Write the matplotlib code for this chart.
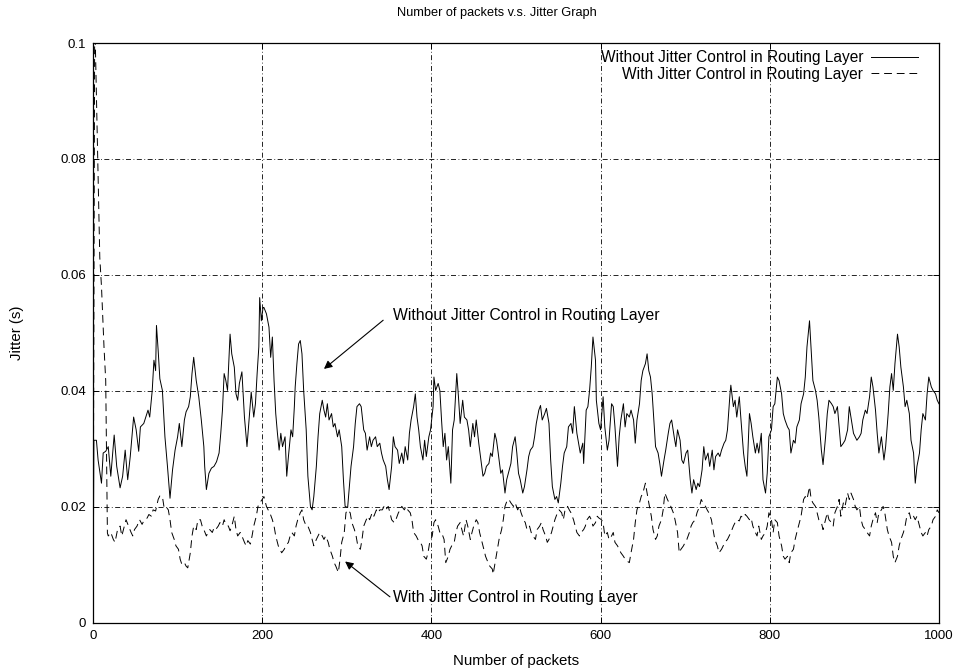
import matplotlib.pyplot as plt

plt.rcParams["font.family"] = ["Liberation Sans", "DejaVu Sans"]

title = "Number of packets v.s. Jitter Graph"
label_without = "Without Jitter Control in Routing Layer"
label_with = "With Jitter Control in Routing Layer"
x_ticks = [0, 200, 400, 600, 800, 1000]
y_ticks = [0, 0.02, 0.04, 0.06, 0.08, 0.1]
y_tick_labels = ["0", "0.02", "0.04", "0.06", "0.08", "0.1"]

# values (packet number, jitter in s)
pkt_without = [
    0, 1, 4, 6, 10, 12, 15, 18, 21, 25,
    28, 32, 35, 38, 41, 44, 48, 51, 54, 56,
    60, 63, 65, 67, 70, 72, 74, 75, 77, 79,
    82, 85, 88, 91, 94, 97, 100, 102, 105, 108,
    110, 113, 115, 117, 119, 122, 125, 128, 131, 132,
    134, 137, 140, 143, 146, 149, 151, 153, 155, 157,
    159, 162, 164, 167, 169, 171, 173, 176, 179, 182,
    185, 187, 190, 192, 194, 196, 197, 199, 201,
    202, 205, 208, 210, 212, 214, 216, 218, 220, 222,
    224, 227, 229, 231, 234, 236, 238, 239, 241, 243,
    245, 247, 249, 252, 254, 257, 259, 261, 264, 266,
    268, 271, 273, 275, 277, 279, 282, 284, 286, 289,
    291, 294, 296, 298, 301, 303, 305, 308, 310, 312,
    315, 317, 320, 322, 324, 327, 329, 331, 334, 336,
    339, 341, 343, 346, 348, 350, 353, 355, 357, 360,
    362, 365, 367, 369, 372, 374, 376, 379, 381, 383,
    385, 387, 390, 392, 394, 397, 399, 402,
    403, 405, 408, 410, 412, 414, 416, 418, 420, 423,
    425, 427, 430, 432, 434, 437, 439, 442, 444, 446,
    449, 451, 453, 456, 458, 461, 463, 465, 468, 470,
    472, 475, 477, 479, 482, 484, 487, 489, 491, 494,
    496, 499, 501, 503, 505, 508, 510, 513, 515, 517,
    520, 522, 524, 527, 529, 531, 534, 536, 539, 541,
    543, 546, 548, 550, 553, 555, 557, 560, 562, 565,
    567, 569, 572, 574, 576, 579, 580, 583, 585, 587,
    589, 591, 594, 595, 598, 600,
    603, 605, 608, 610, 613, 615, 617, 620, 622, 624,
    627, 629, 631, 634, 636, 639, 641, 643, 646, 648,
    650, 653, 655, 657, 659, 661, 663, 665, 668, 670,
    672, 675, 677, 680, 682, 684, 687, 689, 691, 694,
    696, 698, 701, 703, 706, 708, 710, 713, 715, 717,
    720, 722, 724, 727, 729, 732, 734, 736, 739, 741,
    743, 746, 748, 750, 753, 754, 757, 759, 761, 764,
    766, 769, 771, 773, 776, 778, 780, 783, 785, 787,
    790, 792, 795, 797, 799,
    802, 804, 806, 809, 811, 814, 816, 818, 821, 823,
    825, 828, 830, 832, 835, 837, 840, 842, 844, 847,
    849, 851, 854, 856, 858, 861, 863, 866, 868, 870,
    873, 875, 877, 880, 882, 884, 887, 889, 892, 894,
    896, 899, 901, 903, 906, 908, 910, 913, 915, 918,
    920, 922, 925, 927, 929, 932, 935, 937, 940, 942,
    944, 946, 948, 951, 953, 955, 958, 960, 962, 965,
    967, 970, 972, 974, 977, 979, 981, 984, 986, 988,
    991, 993, 996, 998, 1000,
]
jitter_without = [
    0.0, 0.0315, 0.0315, 0.0281, 0.0241, 0.0293, 0.0296, 0.0304, 0.0253, 0.0324,
    0.0270, 0.0233, 0.0253, 0.0298, 0.0247, 0.0287, 0.0355, 0.0333, 0.0296, 0.0338,
    0.0344, 0.0358, 0.0367, 0.0355, 0.0401, 0.0453, 0.0435, 0.0513, 0.0470, 0.0421,
    0.0401, 0.0321, 0.0270, 0.0215, 0.0264, 0.0298, 0.0321, 0.0344, 0.0304, 0.0350,
    0.0364, 0.0373, 0.0390, 0.0430, 0.0458, 0.0418, 0.0390, 0.0350, 0.0304, 0.0270,
    0.0230, 0.0258, 0.0267, 0.0270, 0.0278, 0.0293, 0.0327, 0.0367, 0.0430, 0.0418,
    0.0401, 0.0498, 0.0464, 0.0441, 0.0395, 0.0384, 0.0413, 0.0433, 0.0355, 0.0304,
    0.0361, 0.0398, 0.0355, 0.0378, 0.0430, 0.0476, 0.0561, 0.0521, 0.0544,
    0.0544, 0.0533, 0.0510, 0.0458, 0.0493, 0.0418, 0.0361, 0.0327, 0.0298, 0.0327,
    0.0304, 0.0321, 0.0253, 0.0287, 0.0333, 0.0321, 0.0373, 0.0407, 0.0447, 0.0481,
    0.0487, 0.0464, 0.0401, 0.0333, 0.0253, 0.0201, 0.0195, 0.0218, 0.0270, 0.0321,
    0.0361, 0.0384, 0.0367, 0.0355, 0.0378, 0.0350, 0.0361, 0.0338, 0.0344, 0.0321,
    0.0333, 0.0304, 0.0247, 0.0201, 0.0199, 0.0235, 0.0270, 0.0304, 0.0344, 0.0373,
    0.0378, 0.0373, 0.0333, 0.0327, 0.0298, 0.0321, 0.0304, 0.0315, 0.0321, 0.0304,
    0.0310, 0.0293, 0.0281, 0.0270, 0.0247, 0.0230, 0.0270, 0.0321, 0.0304, 0.0298,
    0.0275, 0.0293, 0.0275, 0.0304, 0.0281, 0.0327, 0.0350, 0.0373, 0.0395, 0.0355,
    0.0333, 0.0304, 0.0281, 0.0315, 0.0287, 0.0321, 0.0333, 0.0373,
    0.0424, 0.0401, 0.0413, 0.0401, 0.0350, 0.0304, 0.0327, 0.0281, 0.0304, 0.0241,
    0.0333, 0.0350, 0.0430, 0.0390, 0.0344, 0.0384, 0.0355, 0.0350, 0.0333, 0.0304,
    0.0344, 0.0321, 0.0350, 0.0310, 0.0287, 0.0253, 0.0258, 0.0270, 0.0275, 0.0293,
    0.0287, 0.0327, 0.0315, 0.0293, 0.0258, 0.0264, 0.0224, 0.0247, 0.0258, 0.0275,
    0.0304, 0.0321, 0.0293, 0.0258, 0.0247, 0.0224, 0.0235, 0.0264, 0.0287, 0.0298,
    0.0304, 0.0321, 0.0344, 0.0367, 0.0375, 0.0350, 0.0361, 0.0370, 0.0344, 0.0281,
    0.0235, 0.0213, 0.0218, 0.0207, 0.0241, 0.0270, 0.0293, 0.0304, 0.0338, 0.0344,
    0.0327, 0.0373, 0.0327, 0.0310, 0.0293, 0.0310, 0.0275, 0.0367, 0.0373, 0.0401,
    0.0441, 0.0493, 0.0453, 0.0384, 0.0344, 0.0333,
    0.0390, 0.0338, 0.0298, 0.0315, 0.0378, 0.0373, 0.0338, 0.0270, 0.0321, 0.0350,
    0.0378, 0.0338, 0.0361, 0.0355, 0.0367, 0.0350, 0.0310, 0.0350, 0.0378, 0.0418,
    0.0435, 0.0447, 0.0464, 0.0435, 0.0424, 0.0395, 0.0350, 0.0304, 0.0293, 0.0275,
    0.0253, 0.0281, 0.0298, 0.0327, 0.0344, 0.0350, 0.0321, 0.0304, 0.0333, 0.0315,
    0.0281, 0.0275, 0.0293, 0.0298, 0.0247, 0.0224, 0.0247, 0.0230, 0.0241, 0.0235,
    0.0264, 0.0304, 0.0281, 0.0293, 0.0270, 0.0298, 0.0264, 0.0287, 0.0293, 0.0287,
    0.0298, 0.0310, 0.0315, 0.0333, 0.0395, 0.0410, 0.0373, 0.0384, 0.0355, 0.0390,
    0.0350, 0.0293, 0.0270, 0.0253, 0.0361, 0.0344, 0.0321, 0.0293, 0.0310, 0.0293,
    0.0327, 0.0247, 0.0224, 0.0258, 0.0321,
    0.0333, 0.0373, 0.0378, 0.0424, 0.0418, 0.0395, 0.0361, 0.0350, 0.0338, 0.0333,
    0.0293, 0.0315, 0.0310, 0.0338, 0.0350, 0.0378, 0.0395, 0.0424, 0.0476, 0.0521,
    0.0470, 0.0418, 0.0401, 0.0384, 0.0355, 0.0298, 0.0273, 0.0321, 0.0361, 0.0384,
    0.0378, 0.0373, 0.0361, 0.0373, 0.0338, 0.0304, 0.0310, 0.0315, 0.0333, 0.0373,
    0.0355, 0.0327, 0.0321, 0.0315, 0.0321, 0.0327, 0.0350, 0.0367, 0.0361, 0.0390,
    0.0424, 0.0407, 0.0367, 0.0327, 0.0293, 0.0321, 0.0281, 0.0304, 0.0361, 0.0407,
    0.0430, 0.0401, 0.0447, 0.0498, 0.0476, 0.0441, 0.0407, 0.0373, 0.0384, 0.0361,
    0.0315, 0.0293, 0.0241, 0.0270, 0.0293, 0.0333, 0.0361, 0.0350, 0.0395, 0.0424,
    0.0407, 0.0401, 0.0395, 0.0384, 0.0378,
]

pkt_with = [
    0, 2, 8, 10, 13, 15, 17,
    18, 21, 24, 26, 29, 32, 34, 37, 39, 42,
    45, 47, 49, 52, 55, 58, 60, 64, 66, 69,
    71, 74, 77, 79, 82, 84, 86, 89, 91, 93,
    96, 98, 101, 103, 105, 108, 110, 112, 115, 117,
    119, 122, 124, 127, 129, 131, 134, 136, 138, 141,
    143, 145, 148, 150, 153, 155, 157, 160, 162, 164,
    167, 169, 171, 174, 176, 179, 181, 183, 186, 188,
    190, 193, 195, 197, 200, 202,
    205, 207, 209, 212, 214, 216, 219, 221, 223, 226,
    228, 231, 233, 235, 238, 240, 242, 245, 247, 249,
    252, 254, 257, 259, 261, 264, 266, 268, 271, 273,
    275, 278, 280, 283, 285, 287, 290, 292, 294, 297,
    299, 301, 304, 306, 309, 311, 313, 316, 318, 320,
    323, 325, 327, 330, 332, 335, 337, 339, 342, 344,
    346, 349, 351, 353, 356, 358, 361, 363, 365, 368,
    370, 372, 375, 377, 379, 382, 384, 387, 389, 391,
    394, 396, 398, 401, 403,
    405, 408, 410, 412, 415, 417, 420, 422, 424, 427,
    429, 431, 434, 436, 438, 441, 443, 446, 448, 450,
    453, 455, 457, 460, 462, 464, 467, 469, 472, 473,
    476, 478, 480, 483, 485, 487, 490, 492, 494, 497,
    499, 502, 504, 506, 509, 511, 513, 516, 518, 520,
    523, 525, 528, 530, 532, 535, 537, 539, 542, 544,
    546, 549, 551, 554, 556, 558, 561, 563, 565, 568,
    570, 572, 575, 577, 580, 582, 584, 587, 589, 591,
    594, 596, 598, 601, 603,
    605, 608, 610, 613, 615, 617, 620, 622, 624, 627,
    629, 631, 634, 636, 639, 641, 643, 646, 648, 650,
    653, 655, 657, 660, 662, 665, 667, 669, 672, 674,
    676, 679, 681, 683, 686, 688, 691, 693, 695, 698,
    700, 702, 705, 707, 709, 712, 714, 717, 719, 721,
    724, 726, 728, 731, 733, 735, 738, 740, 743, 745,
    747, 750, 752, 754, 757, 759, 761, 764, 766, 769,
    771, 773, 776, 778, 780, 783, 785, 787, 790, 792,
    795, 797, 799, 802, 804,
    806, 809, 811, 814, 816, 818, 821, 823, 825, 828,
    830, 832, 835, 837, 840, 842, 844, 847, 849, 851,
    854, 856, 858, 861, 863, 866, 868, 870, 873, 875,
    877, 880, 882, 884, 887, 889, 892, 894, 896, 899,
    901, 903, 906, 908, 910, 913, 915, 918, 920, 922,
    925, 927, 929, 932, 934, 936, 939, 941, 944, 946,
    948, 951, 953, 955, 958, 960, 962, 965, 967, 970,
    972, 974, 977, 979, 981, 984, 986, 988, 991, 993,
    996, 998, 1000,
]
jitter_with = [
    0.0, 0.105, 0.063, 0.058, 0.0475, 0.0418, 0.0155,
    0.0150, 0.0156, 0.0144, 0.0139, 0.0161, 0.0167, 0.0150, 0.0167, 0.0178, 0.0167,
    0.0156, 0.0150, 0.0161, 0.0167, 0.0178, 0.0170, 0.0176, 0.0181, 0.0187, 0.0184,
    0.0195, 0.0193, 0.0213, 0.0219, 0.0218, 0.0199, 0.0201, 0.0195, 0.0178, 0.0156,
    0.0144, 0.0133, 0.0127, 0.0110, 0.0101, 0.0104, 0.0098, 0.0095, 0.0121, 0.0150,
    0.0167, 0.0161, 0.0178, 0.0178, 0.0167, 0.0161, 0.0150, 0.0156, 0.0161, 0.0156,
    0.0164, 0.0161, 0.0167, 0.0173, 0.0167, 0.0178, 0.0170, 0.0167, 0.0159, 0.0167,
    0.0184, 0.0161, 0.0150, 0.0156, 0.0150, 0.0139, 0.0133, 0.0142, 0.0136, 0.0150,
    0.0167, 0.0184, 0.0201, 0.0207, 0.0213, 0.0218,
    0.0201, 0.0195, 0.0190, 0.0178, 0.0167, 0.0150, 0.0133, 0.0127, 0.0121, 0.0127,
    0.0133, 0.0139, 0.0150, 0.0156, 0.0150, 0.0167, 0.0178, 0.0190, 0.0195, 0.0178,
    0.0167, 0.0167, 0.0156, 0.0144, 0.0133, 0.0144, 0.0150, 0.0156, 0.0150, 0.0144,
    0.0150, 0.0139, 0.0127, 0.0115, 0.0104, 0.0098, 0.0087, 0.0110, 0.0139, 0.0156,
    0.0190, 0.0195, 0.0190, 0.0173, 0.0161, 0.0150, 0.0133, 0.0127, 0.0144, 0.0167,
    0.0178, 0.0184, 0.0178, 0.0190, 0.0184, 0.0195, 0.0190, 0.0195, 0.0195, 0.0201,
    0.0195, 0.0201, 0.0190, 0.0178, 0.0173, 0.0178, 0.0190, 0.0195, 0.0201, 0.0195,
    0.0201, 0.0195, 0.0190, 0.0178, 0.0156, 0.0150, 0.0144, 0.0139, 0.0133, 0.0115,
    0.0110, 0.0121, 0.0139, 0.0150, 0.0173,
    0.0178, 0.0167, 0.0156, 0.0156, 0.0144, 0.0104, 0.0115, 0.0127, 0.0133, 0.0139,
    0.0156, 0.0167, 0.0173, 0.0161, 0.0150, 0.0178, 0.0167, 0.0144, 0.0156, 0.0167,
    0.0178, 0.0173, 0.0156, 0.0139, 0.0127, 0.0115, 0.0104, 0.0098, 0.0093, 0.0084,
    0.0110, 0.0127, 0.0144, 0.0161, 0.0178, 0.0201, 0.0213, 0.0212, 0.0207, 0.0201,
    0.0207, 0.0195, 0.0201, 0.0190, 0.0178, 0.0173, 0.0161, 0.0167, 0.0156, 0.0150,
    0.0144, 0.0161, 0.0167, 0.0173, 0.0161, 0.0150, 0.0139, 0.0144, 0.0156, 0.0167,
    0.0178, 0.0190, 0.0195, 0.0190, 0.0178, 0.0195, 0.0201, 0.0195, 0.0190, 0.0178,
    0.0167, 0.0156, 0.0150, 0.0156, 0.0161, 0.0167, 0.0178, 0.0184, 0.0178, 0.0167,
    0.0173, 0.0184, 0.0181, 0.0178, 0.0173,
    0.0150, 0.0156, 0.0144, 0.0150, 0.0156, 0.0139, 0.0133, 0.0127, 0.0121, 0.0115,
    0.0110, 0.0107, 0.0104, 0.0121, 0.0144, 0.0173, 0.0195, 0.0207, 0.0218, 0.0224,
    0.0241, 0.0224, 0.0207, 0.0184, 0.0161, 0.0144, 0.0150, 0.0167, 0.0178, 0.0195,
    0.0224, 0.0213, 0.0207, 0.0201, 0.0190, 0.0178, 0.0156, 0.0121, 0.0127, 0.0133,
    0.0139, 0.0144, 0.0156, 0.0167, 0.0173, 0.0178, 0.0190, 0.0201, 0.0213, 0.0207,
    0.0201, 0.0195, 0.0190, 0.0178, 0.0161, 0.0144, 0.0133, 0.0121, 0.0127, 0.0133,
    0.0139, 0.0144, 0.0150, 0.0156, 0.0167, 0.0173, 0.0178, 0.0176, 0.0184, 0.0181,
    0.0187, 0.0184, 0.0178, 0.0181, 0.0167, 0.0156, 0.0150, 0.0167, 0.0144, 0.0150,
    0.0156, 0.0167, 0.0190, 0.0178, 0.0156,
    0.0178, 0.0173, 0.0150, 0.0133, 0.0115, 0.0110, 0.0115, 0.0104, 0.0121, 0.0127,
    0.0144, 0.0156, 0.0173, 0.0184, 0.0213, 0.0218, 0.0213, 0.0235, 0.0213, 0.0207,
    0.0201, 0.0190, 0.0178, 0.0173, 0.0161, 0.0178, 0.0190, 0.0178, 0.0173, 0.0167,
    0.0190, 0.0201, 0.0213, 0.0184, 0.0207, 0.0201, 0.0224, 0.0213, 0.0224, 0.0213,
    0.0201, 0.0195, 0.0201, 0.0178, 0.0167, 0.0161, 0.0156, 0.0150, 0.0167, 0.0178,
    0.0190, 0.0173, 0.0190, 0.0195, 0.0201, 0.0190, 0.0161, 0.0150, 0.0139, 0.0115,
    0.0104, 0.0115, 0.0133, 0.0144, 0.0156, 0.0167, 0.0184, 0.0190, 0.0178, 0.0184,
    0.0178, 0.0184, 0.0167, 0.0156, 0.0150, 0.0156, 0.0150, 0.0161, 0.0167, 0.0178,
    0.0184, 0.0195, 0.0190,
]

assert len(pkt_without) == len(jitter_without)
assert len(pkt_with) == len(jitter_with)

fig = plt.figure(figsize=(9.64, 6.72), dpi=100)
ax = fig.add_axes([0.0965, 0.073, 0.8775, 0.863])

ax.plot(pkt_without, jitter_without, color="black", lw=0.7, label=label_without)
ax.plot(pkt_with, jitter_with, color="black", lw=0.7,
        linestyle=(0, (8, 5)), label=label_with)

ax.set_xlim(0, 1000)
ax.set_ylim(0, 0.1)
ax.set_xticks(x_ticks)
ax.set_yticks(y_ticks)
ax.set_yticklabels(y_tick_labels)
ax.tick_params(direction="in", length=4, width=0.7, top=True, right=True,
               labelsize=9.5, pad=5)
ax.grid(True, color="black", lw=0.6, linestyle=(0, (6, 3, 1, 3)))
for s in ax.spines.values():
    s.set_linewidth(0.9)

ax.set_xlabel("Number of packets", fontsize=10.8, labelpad=9)
fig.text(17 / 964, 1 - 333 / 672, "Jitter (s)", rotation=90,
         ha="center", va="center", fontsize=10.8)
fig.text(497 / 964, 1 - 13 / 672, title, ha="center", va="center", fontsize=9.2)

ax.legend(loc="upper right", bbox_to_anchor=(0.975, 0.988), frameon=False,
          markerfirst=False, handlelength=3.0, handletextpad=0.5,
          borderpad=0, borderaxespad=0, labelspacing=0.1, fontsize=11.2)

arrow = dict(arrowstyle="-|>", color="black", lw=0.8, mutation_scale=12,
             shrinkA=0, shrinkB=0)
ax.annotate("", xy=(273, 0.0438), xytext=(343, 0.0522), arrowprops=arrow)
ax.text(355, 0.0530, label_without, ha="left", va="center", fontsize=11.3)
ax.annotate("", xy=(298, 0.0106), xytext=(351, 0.0045), arrowprops=arrow)
ax.text(355, 0.0044, label_with, ha="left", va="center", fontsize=11.3)

fig.savefig("out.png", dpi=100)
